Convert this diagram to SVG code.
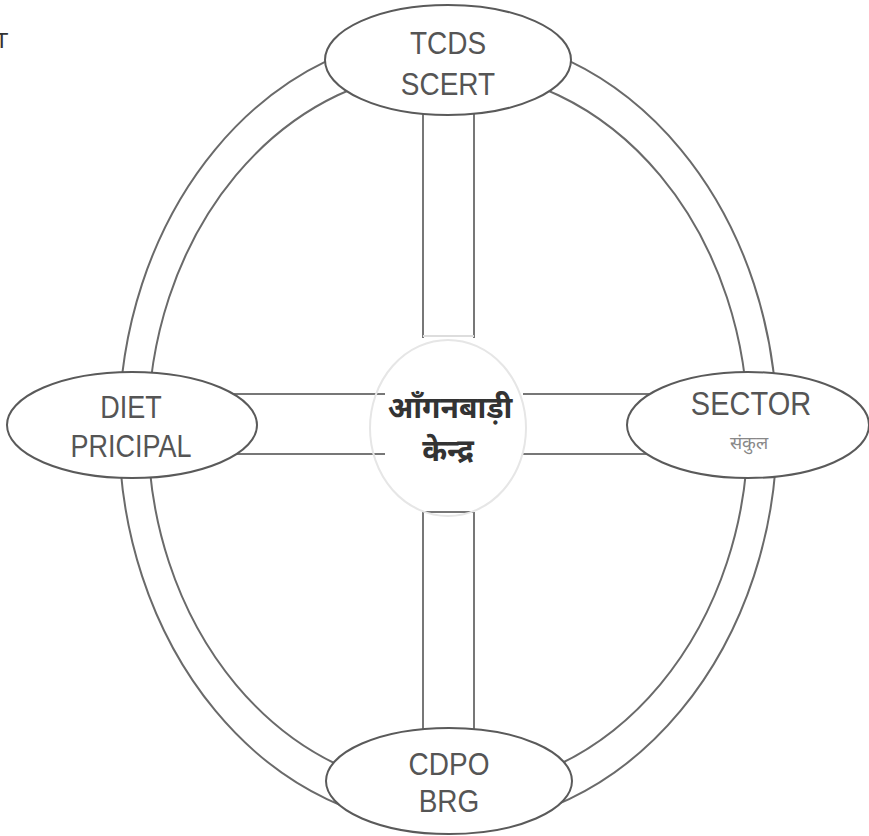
<svg xmlns="http://www.w3.org/2000/svg" width="869" height="836" viewBox="0 0 869 836">
<style>
.ring{fill:none;stroke:#6a6a6a;stroke-width:2}
.spoke{fill:none;stroke:#777;stroke-width:2}
.node{fill:#fff;stroke:#5a5a5a;stroke-width:2}
.lbl{font-family:"Liberation Sans",Arial,sans-serif;fill:#555;text-anchor:middle}
.hi{font-family:"Noto Sans","Noto Sans Devanagari",sans-serif;text-anchor:middle}
</style>
<rect width="869" height="836" fill="#fff"/>
<text x="-5" y="48" font-family="Liberation Sans,Arial,sans-serif" font-size="22" fill="#333">T</text>
<g id="connectors">
<ellipse class="ring" cx="448" cy="430" rx="329" ry="397"/>
<ellipse class="ring" cx="448" cy="430" rx="300" ry="360"/>
<path class="spoke" d="M423 105 V338 M474 105 V338"/>
<path stroke="#ddd" stroke-width="2" d="M423 336 H474"/>
<path class="spoke" d="M423 512 V740 M474 512 V740 M423 512 H474"/>
<path class="spoke" d="M230 394 H385 M230 454 H385"/>
<path class="spoke" d="M523 394 H660 M523 454 H660"/>
</g>
<g id="center">
<ellipse cx="448" cy="428" rx="78" ry="88" fill="none" stroke="#e6e6e6" stroke-width="2"/>
<text class="hi" x="450" y="418" font-size="30" font-weight="bold" fill="#333">आँगनबाड़ी</text>
<text class="hi" x="448" y="461" font-size="30" font-weight="bold" fill="#333">केन्द्र</text>
</g>
<g id="top">
<ellipse class="node" cx="448" cy="60" rx="123" ry="55"/>
<text class="lbl" transform="translate(448,54) scale(1,1.15)" font-size="28">TCDS</text>
<text class="lbl" transform="translate(448,95) scale(1,1.15)" font-size="28">SCERT</text>
</g>
<g id="left">
<ellipse class="node" cx="132" cy="425" rx="125" ry="53"/>
<text class="lbl" transform="translate(131,418) scale(1,1.15)" font-size="27">DIET</text>
<text class="lbl" transform="translate(131,457) scale(1,1.15)" font-size="27">PRICIPAL</text>
</g>
<g id="right">
<ellipse class="node" cx="748" cy="425" rx="121" ry="53"/>
<text class="lbl" transform="translate(751,415) scale(1,1.15)" font-size="29">SECTOR</text>
<text class="hi" x="749" y="449" font-size="18" fill="#888">संकुल</text>
</g>
<g id="bottom">
<ellipse class="node" cx="449" cy="781" rx="123" ry="53"/>
<text class="lbl" transform="translate(449,775) scale(1,1.15)" font-size="28">CDPO</text>
<text class="lbl" transform="translate(449,812) scale(1,1.15)" font-size="28">BRG</text>
</g>
</svg>
